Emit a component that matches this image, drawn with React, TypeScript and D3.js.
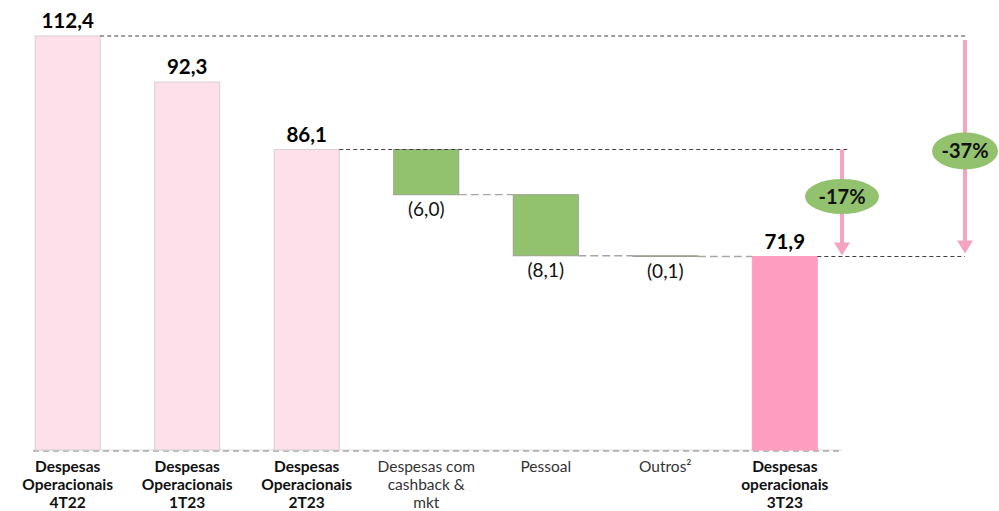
import React from "react";
import * as d3 from "d3";

const categories = ["4T22", "1T23", "2T23", "cashback", "pessoal", "outros", "3T23"];
const labelLines = [
  ["Despesas", "Operacionais", "4T22"],
  ["Despesas", "Operacionais", "1T23"],
  ["Despesas", "Operacionais", "2T23"],
  ["Despesas com", "cashback &", "mkt"],
  ["Pessoal"],
  ["Outros²"],
  ["Despesas", "operacionais", "3T23"],
];
const values = [112.4, 92.3, 86.1, -6.0, -8.1, -0.1, 71.9];
const isTotal = [true, true, true, false, false, false, true];
const valueLabels = ["112,4", "92,3", "86,1", "(6,0)", "(8,1)", "(0,1)", "71,9"];
const pctLabels = ["-17%", "-37%"];

const W = 999;
const H = 511;
const FONT = "Lato, 'Open Sans', sans-serif";

export default function App() {
  const x = d3
    .scaleBand<string>()
    .domain(categories)
    .range([7.9, 844.6])
    .paddingInner(0.456)
    .paddingOuter(0.228);

  // presentation chart not drawn to scale: piecewise linear scale
  const y = d3
    .scaleLinear()
    .domain([0, 71.9, 86.1, 92.3, 112.4])
    .range([450, 256.5, 149.5, 82, 36]);

  let running = 0;
  const segs = values.map((v, i) => {
    if (isTotal[i]) {
      running = v;
      return { y0: 0, y1: v };
    }
    const start = running;
    running = +(running + v).toFixed(2);
    return { y0: running, y1: start };
  });

  const bw = x.bandwidth();
  const pink = "#F6A3C2";
  const arrowX17 = 842;
  const arrowX37 = 965;

  const arrow = (ax: number, yStart: number, yEnd: number) => (
    <g>
      <line x1={ax} x2={ax} y1={yStart} y2={yEnd - 12} stroke={pink} strokeWidth={4} />
      <path d={`M${ax - 8},${yEnd - 13} L${ax + 8},${yEnd - 13} L${ax},${yEnd} Z`} fill={pink} />
    </g>
  );

  return (
    <svg width={W} height={H} style={{ position: "absolute", left: 0, top: 0 }}>
      <rect width={W} height={H} fill="#fff" />
      <line x1={33} x2={842} y1={y(0)} y2={y(0)} stroke="#d9d9d9" strokeWidth={1} />
      <line x1={33} x2={842} y1={y(0) + 1} y2={y(0) + 1} stroke="#a6a6a6" strokeWidth={1.3} strokeDasharray="6,4" />

      {categories.map((c, i) => {
        const s = segs[i];
        const last = i === categories.length - 1;
        const fill = isTotal[i] ? (last ? "#FF9DC0" : "#FEE0EA") : "#93C26F";
        const stroke = isTotal[i] ? (last ? "#FF9DC0" : "#d8cfd2") : "#9aa08f";
        const top = y(s.y1);
        const bot = y(s.y0);
        return (
          <rect
            key={c}
            x={x(c)}
            y={top}
            width={bw}
            height={Math.max(bot - top, 0.5)}
            fill={fill}
            stroke={stroke}
            strokeWidth={1}
          />
        );
      })}

      {categories.slice(3, 6).map((c, k) => {
        const i = k + 3;
        const next = categories[i + 1];
        const yy = y(segs[i].y0);
        return (
          <line
            key={"conn" + c}
            x1={(x(c) as number) + bw}
            x2={x(next) as number}
            y1={yy}
            y2={yy}
            stroke="#a6a6a6"
            strokeWidth={1.3}
            strokeDasharray="8,4"
          />
        );
      })}

      <line x1={(x("4T22") as number) + bw} x2={arrowX37 + 3} y1={y(values[0])} y2={y(values[0])} stroke="#404040" strokeWidth={1} strokeDasharray="4,3" />
      <line x1={(x("2T23") as number) + bw} x2={arrowX17 + 8} y1={y(values[2])} y2={y(values[2])} stroke="#404040" strokeWidth={1} strokeDasharray="4,3" />
      <line x1={(x("3T23") as number) + bw} x2={arrowX37} y1={y(values[6])} y2={y(values[6])} stroke="#404040" strokeWidth={1} strokeDasharray="4,3" />

      {arrow(arrowX17, y(values[2]), y(values[6]) - 1)}
      {arrow(arrowX37, y(values[0]) + 4, y(values[6]) - 3)}

      <ellipse cx={arrowX17} cy={196.5} rx={37} ry={17.5} fill="#93C26F" />
      <text x={arrowX17} y={203.5} textAnchor="middle" fontFamily={FONT} fontWeight={700} fontSize={20} fill="#111">
        {pctLabels[0]}
      </text>
      <ellipse cx={arrowX37} cy={151} rx={33} ry={18.5} fill="#93C26F" />
      <text x={arrowX37} y={158} textAnchor="middle" fontFamily={FONT} fontWeight={700} fontSize={20} fill="#111">
        {pctLabels[1]}
      </text>

      {categories.map((c, i) => {
        const cx = (x(c) as number) + bw / 2;
        const s = segs[i];
        if (isTotal[i]) {
          return (
            <text key={"v" + c} x={cx} y={y(s.y1) - 8} textAnchor="middle" fontFamily={FONT} fontWeight={700} fontSize={20.5} fill="#000">
              {valueLabels[i]}
            </text>
          );
        }
        return (
          <text key={"v" + c} x={cx} y={y(s.y0) + 21} textAnchor="middle" fontFamily={FONT} fontWeight={400} fontSize={19} fill="#111">
            {valueLabels[i]}
          </text>
        );
      })}

      {categories.map((c, i) => {
        const cx = (x(c) as number) + bw / 2;
        return (
          <text key={"c" + c} textAnchor="middle" fontFamily={FONT} fontWeight={isTotal[i] ? 700 : 400} fontSize={15.5} fill={isTotal[i] ? "#111" : "#333"}>
            {labelLines[i].map((l, j) => (
              <tspan key={j} x={cx} y={472 + j * 18}>
                {l}
              </tspan>
            ))}
          </text>
        );
      })}
    </svg>
  );
}
